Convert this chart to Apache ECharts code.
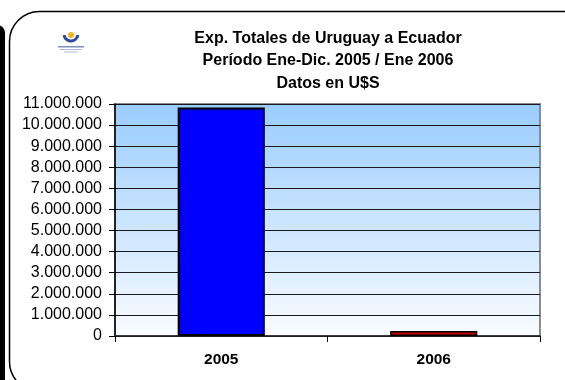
<!DOCTYPE html>
<html>
<head>
<meta charset="utf-8">
<style>
  html, body { margin: 0; padding: 0; background: #fff; }
  #chart { width: 565px; height: 380px; }
</style>
<script src="https://cdn.jsdelivr.net/npm/echarts@6/dist/echarts.min.js"></script>
</head>
<body>
<div id="chart"></div>
<script>
// Exports from Uruguay to Ecuador, in U$S
const categories = ['2005', '2006'];
const exportValues = [10830000, 235000];
const barColors = ['#0000FF', '#C00000'];
const barBorders = [2, 1.5];
const titleLines = [
  'Exp. Totales de Uruguay a Ecuador',
  'Período Ene-Dic. 2005 / Ene 2006',
  'Datos en U$S'
];

const font = '"Liberation Sans", Arial, sans-serif';

function thousands(v) {
  return String(v).replace(/\B(?=(\d{3})+(?!\d))/g, '.');
}

const chart = echarts.init(document.getElementById('chart'), null, { renderer: 'canvas' });

chart.setOption({
  backgroundColor: '#ffffff',
  animation: false,
  title: {
    text: titleLines.join('\n'),
    left: 323,
    top: 22,
    textAlign: 'center',
    textStyle: {
      fontFamily: font,
      fontSize: 16,
      fontWeight: 'bold',
      color: '#000',
      lineHeight: 22.5
    }
  },
  grid: {
    left: 115,
    right: 25,
    top: 104,
    bottom: 44,
    show: true,
    borderColor: '#8c8c8c',
    borderWidth: 2,
    backgroundColor: {
      type: 'linear', x: 0, y: 0, x2: 0, y2: 1,
      colorStops: [
        { offset: 0, color: '#99CCFF' },
        { offset: 1, color: '#FAFCFF' }
      ]
    }
  },
  xAxis: {
    type: 'category',
    data: categories,
    axisLine: { lineStyle: { color: '#222', width: 1.5 } },
    axisTick: { show: true, alignWithLabel: false, length: 6, lineStyle: { color: '#000' } },
    axisLabel: {
      fontFamily: font, fontSize: 15.5, fontWeight: 'bold', color: '#000', margin: 16
    }
  },
  yAxis: {
    type: 'value',
    min: 0,
    max: 11000000,
    interval: 1000000,
    axisLine: { show: true, lineStyle: { color: '#000', width: 1.5 } },
    axisTick: { show: true, length: 6, lineStyle: { color: '#000' } },
    axisLabel: {
      fontFamily: font, fontSize: 16, color: '#000', margin: 13,
      formatter: thousands
    },
    splitLine: { lineStyle: { color: '#1a1a1a', width: 1 } }
  },
  series: [{
    type: 'bar',
    barWidth: '41%',
    data: exportValues.map((v, i) => ({
      value: v,
      itemStyle: { color: barColors[i], borderColor: '#000', borderWidth: barBorders[i] }
    }))
  }],
  graphic: [
    // frame of the neighbouring panel at the far left
    { type: 'rect', left: -12, top: 25, shape: { width: 17, height: 370, r: 8 },
      style: { fill: '#000' }, silent: true },
    // rounded frame around the chart
    { type: 'rect', shape: { x: 9.5, y: 11.5, width: 585, height: 380, r: 30 },
      style: { fill: 'none', stroke: '#000', lineWidth: 1.5 }, silent: true, z: 10 },
    // emblem: blue cup with a sun
    { type: 'arc', shape: { cx: 71, cy: 34, r: 7, startAngle: 0.15, endAngle: Math.PI - 0.15 },
      style: { stroke: '#2a4d9c', lineWidth: 3, fill: 'none' }, silent: true },
    { type: 'circle', shape: { cx: 71, cy: 35, r: 3 },
      style: { fill: '#f5b324' }, silent: true },
    { type: 'rect', shape: { x: 58, y: 46, width: 26, height: 1.5 },
      style: { fill: '#7b8fc0' }, silent: true },
    { type: 'rect', shape: { x: 60, y: 49, width: 22, height: 1 },
      style: { fill: '#a9b6d6' }, silent: true },
    { type: 'rect', shape: { x: 64, y: 51.5, width: 14, height: 1 },
      style: { fill: '#a9b6d6' }, silent: true }
  ]
});
</script>
</body>
</html>
